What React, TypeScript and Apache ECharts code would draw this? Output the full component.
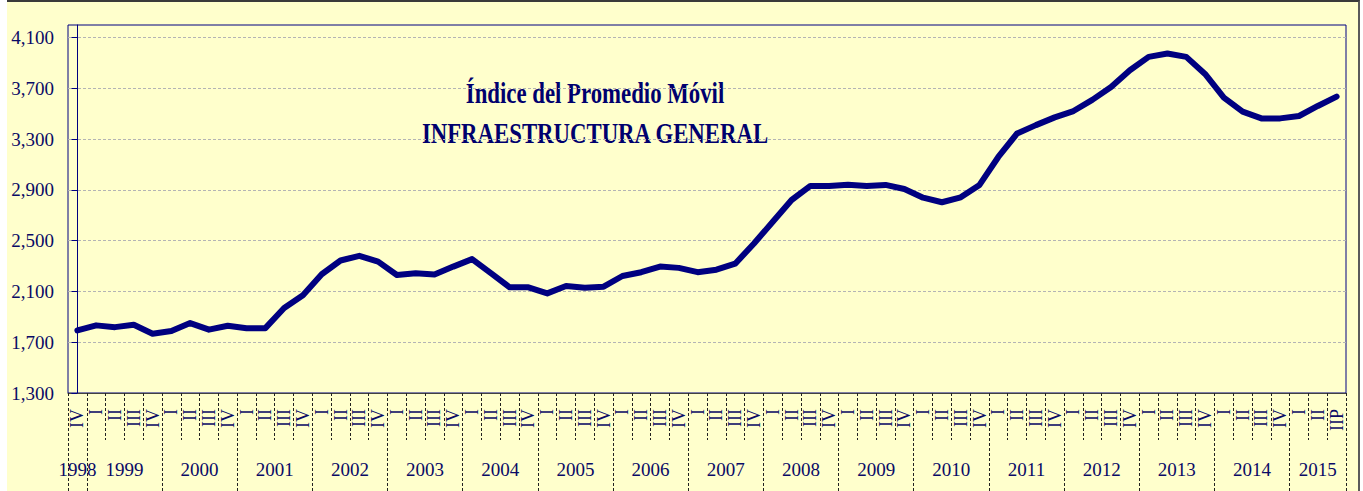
import React, { useEffect, useRef } from "react";
import * as echarts from "echarts";

// ---- data ----
const yearLabels = [
  "1998", "1999", "2000", "2001", "2002", "2003", "2004", "2005", "2006",
  "2007", "2008", "2009", "2010", "2011", "2012", "2013", "2014", "2015",
];
const quartersInYear = [1, 4, 4, 4, 4, 4, 4, 4, 4, 4, 4, 4, 4, 4, 4, 4, 4, 3];
const quarterLabels = [
  "IV",
  "I", "II", "III", "IV",
  "I", "II", "III", "IV",
  "I", "II", "III", "IV",
  "I", "II", "III", "IV",
  "I", "II", "III", "IV",
  "I", "II", "III", "IV",
  "I", "II", "III", "IV",
  "I", "II", "III", "IV",
  "I", "II", "III", "IV",
  "I", "II", "III", "IV",
  "I", "II", "III", "IV",
  "I", "II", "III", "IV",
  "I", "II", "III", "IV",
  "I", "II", "III", "IV",
  "I", "II", "III", "IV",
  "I", "II", "III", "IV",
  "I", "II", "IIP",
];
const indexValues = [
  1793,
  1833, 1819, 1838, 1767,
  1788, 1851, 1799, 1830,
  1811, 1811, 1970, 2071,
  2236, 2344, 2381, 2335,
  2230, 2244, 2233, 2296,
  2355, 2244, 2133, 2133,
  2085, 2143, 2130, 2138,
  2222, 2252, 2296, 2286,
  2252, 2272, 2319, 2478,
  2649, 2821, 2932, 2932,
  2942, 2932, 2940, 2908,
  2839, 2803, 2842, 2940,
  3160, 3345, 3411, 3472,
  3522, 3610, 3711, 3843,
  3949, 3975, 3949, 3814,
  3628, 3517, 3464, 3464,
  3483, 3562, 3636,
];
const yTicks = [1300, 1700, 2100, 2500, 2900, 3300, 3700, 4100];
const titleLines = ["Índice del Promedio Móvil", "INFRAESTRUCTURA GENERAL"];

// ---- derived ----
const categories: string[] = [];
const yearStarts: number[] = [];
const yearCenters: number[] = [];
{
  let k = 0;
  yearLabels.forEach((y, yi) => {
    yearStarts.push(k);
    yearCenters.push(k + (quartersInYear[yi] - 1) / 2);
    for (let q = 0; q < quartersInYear[yi]; q++) {
      categories.push(y + "|" + quarterLabels[k]);
      k++;
    }
  });
}

const NAVY = "#000080";
const TXT = "#0a0a66";
const FONT = "Liberation Serif";

export default function App() {
  const ref = useRef<HTMLDivElement>(null);
  useEffect(() => {
    document.body.style.margin = "0";
    const chart = echarts.init(ref.current!, undefined, { renderer: "svg" });
    chart.setOption({
      animation: false,
      backgroundColor: "transparent",
      grid: {
        left: 68,
        right: 17,
        top: 25,
        bottom: 98,
        show: true,
        borderColor: NAVY,
        borderWidth: 1,
        backgroundColor: "transparent",
      },
      xAxis: [
        {
          type: "category",
          position: "bottom",
          data: categories,
          boundaryGap: true,
          axisLine: { lineStyle: { color: "#404040", width: 1 } },
          axisTick: {
            show: true,
            interval: 0,
            length: 47,
            lineStyle: { color: "#222", type: [3, 2], width: 1 },
          },
          axisLabel: {
            interval: 0,
            rotate: 90,
            margin: 16,
            fontFamily: FONT,
            fontSize: 18,
            color: TXT,
            formatter: (v: string) => v.split("|")[1],
          },
          splitLine: { show: false },
        },
        {
          type: "category",
          position: "bottom",
          data: categories,
          boundaryGap: true,
          axisLine: { show: false },
          axisTick: {
            show: true,
            interval: (i: number) => yearStarts.indexOf(i) >= 0,
            length: 100,
            lineStyle: { color: "#222", type: [3, 2], width: 1 },
          },
          axisLabel: { show: false },
          splitLine: { show: false },
        },
        {
          type: "value",
          position: "bottom",
          min: -0.5,
          max: categories.length - 0.5,
          axisLine: { show: false },
          axisTick: { show: false },
          splitLine: { show: false },
          axisLabel: {
            customValues: yearCenters,
            margin: 67,
            fontFamily: FONT,
            fontSize: 19,
            color: TXT,
            formatter: (v: number) => {
              const i = yearCenters.indexOf(v);
              return i >= 0 ? yearLabels[i] : "";
            },
          },
        },
      ],
      yAxis: {
        type: "value",
        min: 1300,
        max: 4200,
        interval: 400,
        axisLine: { show: true, lineStyle: { color: NAVY, width: 1 } },
        axisTick: {
          show: true,
          length: 6,
          customValues: yTicks,
          lineStyle: { color: NAVY },
        },
        axisLabel: {
          customValues: yTicks,
          margin: 14,
          fontFamily: FONT,
          fontSize: 19,
          color: TXT,
          formatter: (v: number) => v.toLocaleString("en-US"),
        },
        splitLine: {
          show: true,
          customValues: yTicks,
          lineStyle: { color: "#b4b4b4", type: [3, 2], width: 1 },
        },
      },
      graphic: [
        {
          type: "text",
          x: 595,
          y: 93,
          scaleX: 0.76,
          style: {
            text: titleLines[0],
            font: `bold 30px "${FONT}"`,
            fill: "#00006e",
            align: "center",
            verticalAlign: "middle",
            textAlign: "center",
            textVerticalAlign: "middle",
          },
        },
        {
          type: "text",
          x: 595,
          y: 132.5,
          scaleX: 0.76,
          style: {
            text: titleLines[1],
            font: `bold 30px "${FONT}"`,
            fill: "#00006e",
            align: "center",
            verticalAlign: "middle",
            textAlign: "center",
            textVerticalAlign: "middle",
          },
        },
      ],
      series: [
        {
          type: "line",
          xAxisIndex: 0,
          yAxisIndex: 0,
          data: indexValues,
          symbol: "none",
          smooth: false,
          lineStyle: { color: NAVY, width: 6, join: "round", cap: "round" },
        },
      ],
    });
    return () => chart.dispose();
  }, []);

  return (
    <div style={{ position: "relative", width: 1363, height: 491, background: "#ffffff", overflow: "hidden" }}>
      <div
        style={{
          position: "absolute",
          left: 7,
          top: 0,
          width: 1351,
          height: 489,
          background: "#FFFFCC",
          borderTop: "2px solid #3a3a3a",
          borderRight: "2px solid #5a5a5a",
        }}
      />
      <div ref={ref} style={{ position: "absolute", left: 0, top: 0, width: 1363, height: 491 }} />
    </div>
  );
}
